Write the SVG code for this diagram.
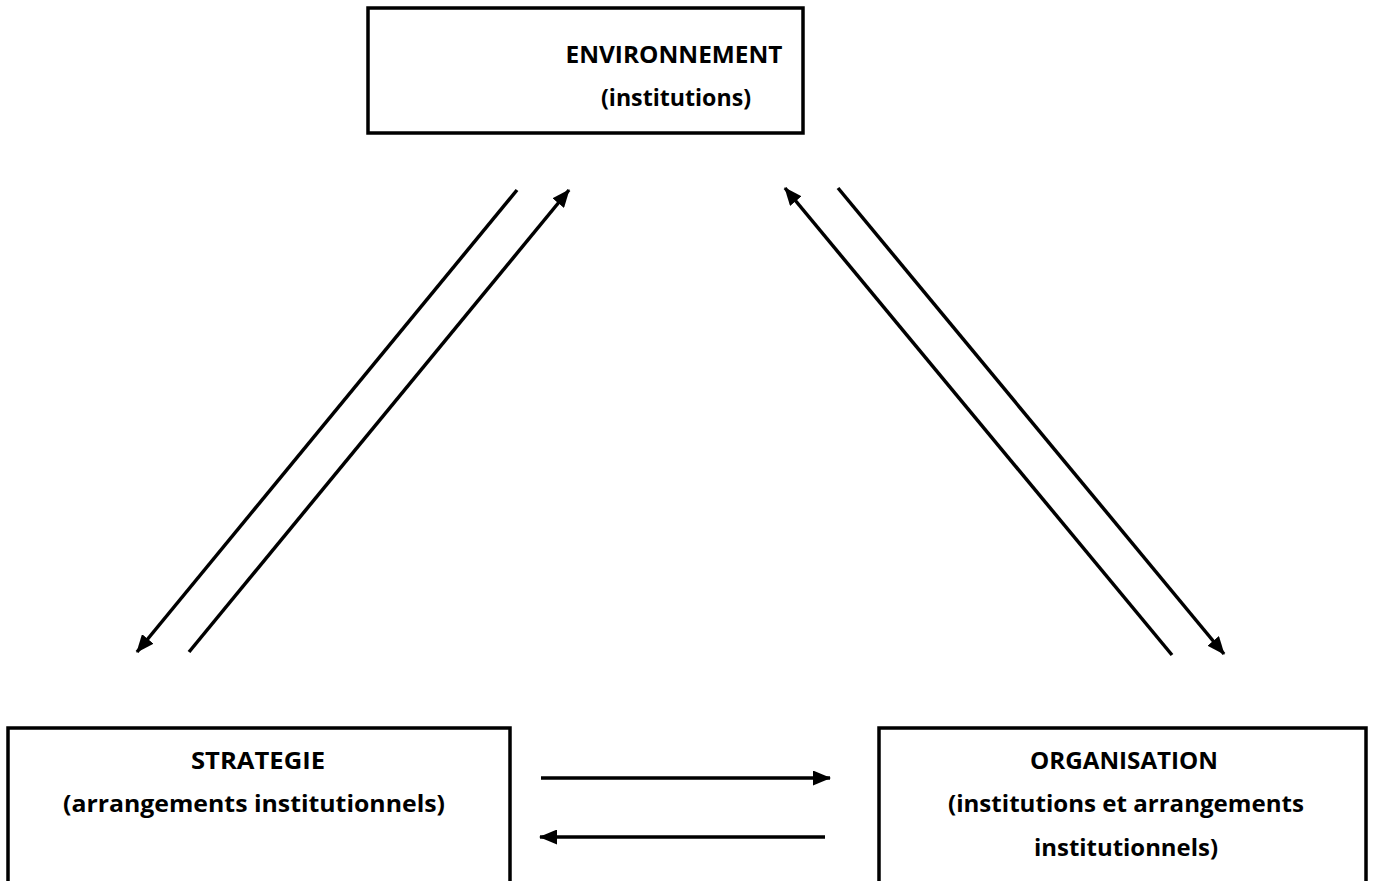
<svg xmlns="http://www.w3.org/2000/svg" width="1375" height="881" viewBox="0 0 1375 881">
<style>
.box{fill:#fff;stroke:#000;stroke-width:3.5}
.t{font-family:"Open Sans","Liberation Sans",sans-serif;font-weight:bold;font-size:24px;fill:#000;text-anchor:middle}
.c{stroke:#000;stroke-width:3.5;fill:none;marker-end:url(#ah)}
</style>
<defs>
<marker id="ah" markerUnits="userSpaceOnUse" viewBox="0 0 18 15" refX="17" refY="7.5" markerWidth="18" markerHeight="15" orient="auto">
<path d="M0,0 L18,7.5 L0,15 Z" fill="#000"/>
</marker>
</defs>
<rect width="1375" height="881" fill="#fff"/>
<g id="environnement">
<rect class="box" x="368" y="8" width="435" height="125"/>
<text class="t" x="674" y="63" textLength="217" lengthAdjust="spacingAndGlyphs">ENVIRONNEMENT</text>
<text class="t" x="676" y="106" textLength="150" lengthAdjust="spacingAndGlyphs">(institutions)</text>
</g>
<g id="strategie">
<rect class="box" x="8" y="728" width="502" height="160"/>
<text class="t" x="258" y="769" textLength="134" lengthAdjust="spacingAndGlyphs">STRATEGIE</text>
<text class="t" x="254" y="812" textLength="382" lengthAdjust="spacingAndGlyphs">(arrangements institutionnels)</text>
</g>
<g id="organisation">
<rect class="box" x="879" y="728" width="487" height="160"/>
<text class="t" x="1124" y="769" textLength="188" lengthAdjust="spacingAndGlyphs">ORGANISATION</text>
<text class="t" x="1126" y="812" textLength="356" lengthAdjust="spacingAndGlyphs">(institutions et arrangements</text>
<text class="t" x="1126" y="856" textLength="184" lengthAdjust="spacingAndGlyphs">institutionnels)</text>
</g>
<g id="connectors">
<line class="c" x1="517" y1="190" x2="137" y2="652"/>
<line class="c" x1="189" y1="652" x2="569" y2="190"/>
<line class="c" x1="1172" y1="655" x2="785" y2="188"/>
<line class="c" x1="838" y1="188" x2="1224" y2="654"/>
<line class="c" x1="541" y1="778" x2="830" y2="778"/>
<line class="c" x1="825" y1="837" x2="540" y2="837"/>
</g>
</svg>
